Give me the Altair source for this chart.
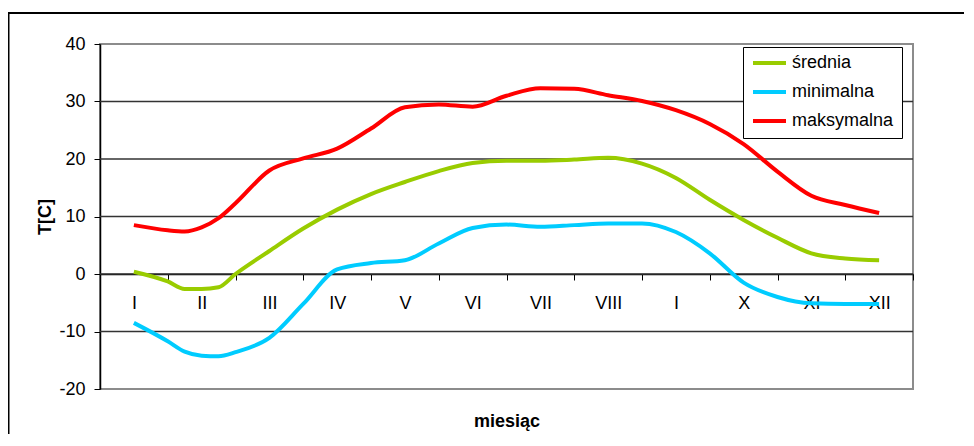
import altair as alt
import pandas as pd

# ---- data ----
months = ["I", "II", "III", "IV", "V", "VI", "VII", "VIII", "I", "X", "XI", "XII"]
series_names = ["średnia", "minimalna", "maksymalna"]
series_colors = ["#99CC00", "#00CCFF", "#FF0000"]
y_ticks = [-20, -10, 0, 10, 20, 30, 40]
grid_vals = [-10, 0, 10, 20, 30]

x_pos = [1, 1.5, 1.75, 2, 2.25, 2.5, 3, 3.5, 4, 4.5, 5, 5.5, 6, 6.5, 7, 7.5, 8,
         8.5, 9, 9.5, 10, 10.5, 11, 11.5, 12]
srednia = [0.4, -1.3, -2.6, -2.6, -2.3, 0.0, 4.0, 7.9, 11.2, 13.9, 16.0, 17.9, 19.3,
           19.7, 19.7, 19.9, 20.2, 19.2, 16.7, 12.9, 9.4, 6.3, 3.6, 2.7, 2.4]
minimalna = [-8.5, -11.7, -13.5, -14.2, -14.3, -13.6, -11.1, -5.2, 0.8, 1.9, 2.4, 5.3, 8.0,
             8.6, 8.2, 8.5, 8.8, 8.8, 7.3, 3.6, -1.5, -4.0, -5.1, -5.2, -5.2]
maksymalna = [8.5, 7.6, 7.4, 8.1, 9.7, 12.3, 18.0, 20.1, 21.8, 25.3, 29.0, 29.5, 29.1,
              31.0, 32.3, 32.2, 31.1, 30.1, 28.5, 26.1, 22.6, 17.8, 13.6, 12.0, 10.6]

rows = []
for name, vals in zip(series_names, [srednia, minimalna, maksymalna]):
    for x, v in zip(x_pos, vals):
        rows.append({"m": x, "T": v, "seria": name})
df = pd.DataFrame(rows)

FONT = "Liberation Sans"
W, H = 813, 345
half_band = W / 12 / 2
label_js = "[" + ",".join("'%s'" % m for m in months) + "]"

x_scale = alt.Scale(domain=[0.5, 12.5], nice=False, zero=False)
y_scale = alt.Scale(domain=[-20, 40], nice=False, zero=False)

x_axis = alt.Axis(
    values=list(range(1, 13)), labelExpr=label_js + "[datum.value-1]",
    offset=-115, tickOffset=half_band, labelOffset=-half_band,
    tickSize=6, tickColor="black", domainColor="black", domainWidth=1.5,
    labelFontSize=18, labelFont=FONT, labelColor="black", labelPadding=14,
    labelFlush=False, labelOverlap=False, grid=False,
    title="miesiąc", titleFont=FONT, titleFontSize=18, titleFontWeight="bold",
    titleColor="black", titleY=152, titleBaseline="alphabetic",
)
y_axis = alt.Axis(
    values=y_ticks, labelExpr="'' + datum.value",
    tickSize=6, tickColor="black", domainColor="black", domainWidth=1.5,
    labelFontSize=18, labelFont=FONT, labelColor="black", labelPadding=9, grid=False,
    title="T[C]", titleFont=FONT, titleFontSize=18, titleFontWeight="bold",
    titleColor="black", titleX=-50, titleY=172.5, titleBaseline="alphabetic",
)

frame = alt.Chart(pd.DataFrame({"a": [0]})).mark_rect(
    filled=False, stroke="black", strokeWidth=2
).encode(
    x=alt.value(-91.5), x2=alt.value(3000), y=alt.value(-31), y2=alt.value(3000)
)

grid = alt.Chart(pd.DataFrame({"g": grid_vals})).mark_rule(
    color="#333333", strokeWidth=1.3
).encode(y=alt.Y("g:Q", scale=y_scale, axis=y_axis))

lines = alt.Chart(df).mark_line(interpolate="monotone", strokeWidth=4).encode(
    x=alt.X("m:Q", scale=x_scale, axis=x_axis),
    y=alt.Y("T:Q", scale=y_scale, axis=y_axis),
    color=alt.Color(
        "seria:N",
        scale=alt.Scale(domain=series_names, range=series_colors),
        legend=alt.Legend(
            title=None, orient="none", legendX=643, legendY=3, direction="vertical",
            fillColor="white", strokeColor="black", padding=8,
            symbolType="stroke", symbolSize=1089, symbolStrokeWidth=4,
            labelFontSize=18, labelFont=FONT, labelColor="black", labelOffset=4,
            clipHeight=16, rowPadding=11,
        ),
    ),
)

chart = alt.layer(frame, grid, lines).properties(
    width=W, height=H,
    autosize=alt.AutoSizeParams(type="none"),
    padding={"left": 92, "top": 36, "right": 51, "bottom": 45},
    background="white",
).configure_view(stroke="#8c8c8c", strokeWidth=2)

chart.save("out.html", embed_options={"renderer": "svg", "actions": False})
